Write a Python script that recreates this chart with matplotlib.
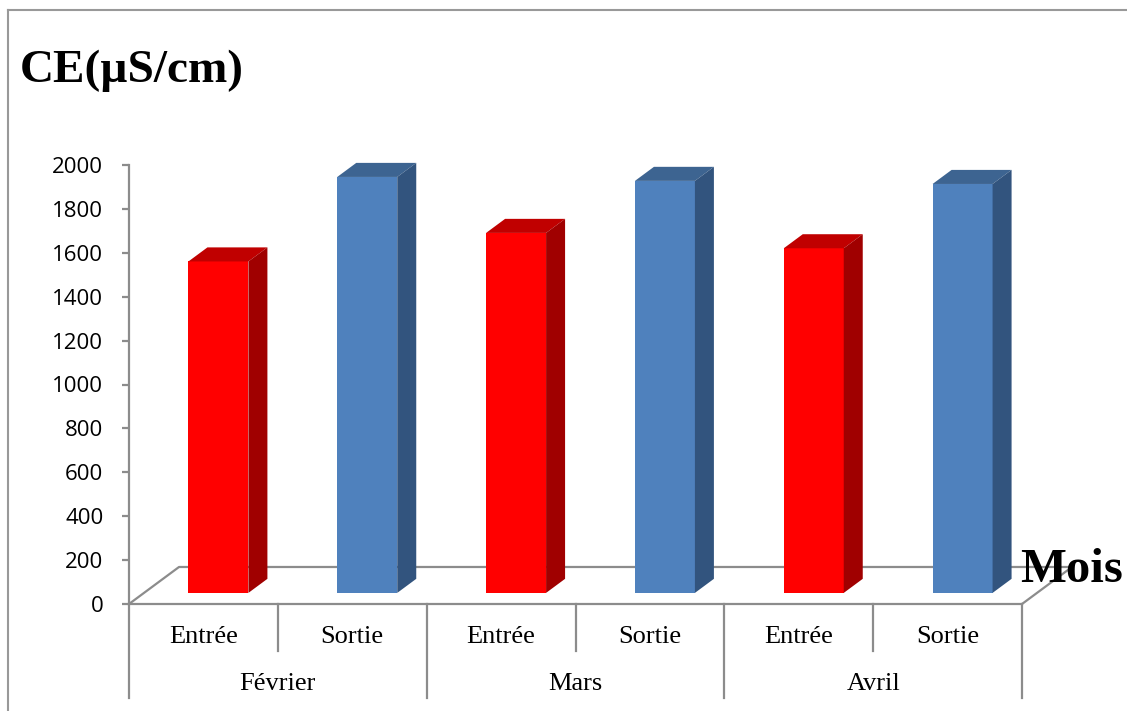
import matplotlib.pyplot as plt
from matplotlib.patches import Polygon

months = ['Février', 'Mars', 'Avril']
series = ['Entrée', 'Sortie']
entree = [1510, 1640, 1570]
sortie = [1895, 1877, 1863]

# colours: front, top, side
red = ('#FF0000', '#C00000', '#A00000')
blue = ('#4F81BD', '#3D6491', '#32547E')
grey = '#8C8C8C'

fig = plt.figure(figsize=(11.27, 7.11), dpi=100)
W, H = 1127, 711
ax = fig.add_axes([129 / W, 1 - 604 / H, (1022 - 129) / W, (604 - 165) / H])
ax.set_xlim(0, 6)
ax.set_ylim(0, 2000)

# pseudo 3D depth (data units)
ddx, ddy = 0.336, 168.6
f1, f2 = 0.30, 0.68
bw = 0.403

vals = []
cols = []
for e, s in zip(entree, sortie):
    vals += [e, s]
    cols += [red, blue]

for i, (v, c) in enumerate(zip(vals, cols)):
    x0 = i + 0.5 - bw / 2 + f1 * ddx
    y0 = f1 * ddy
    x1 = x0 + bw
    y1 = y0 + v
    ox, oy = (f2 - f1) * ddx, (f2 - f1) * ddy
    ax.add_patch(Polygon([(x0, y0), (x1, y0), (x1, y1), (x0, y1)], closed=True,
                         facecolor=c[0], edgecolor='none', zorder=3))
    ax.add_patch(Polygon([(x0, y1), (x1, y1), (x1 + ox, y1 + oy), (x0 + ox, y1 + oy)],
                         closed=True, facecolor=c[1], edgecolor='none', zorder=3, clip_on=False))
    ax.add_patch(Polygon([(x1, y0), (x1 + ox, y0 + oy), (x1 + ox, y1 + oy), (x1, y1)],
                         closed=True, facecolor=c[2], edgecolor='none', zorder=3, clip_on=False))

# floor
lw = 1.6
ax.plot([0, ddx, 6 + ddx, 6], [0, ddy, ddy, 0], color=grey, lw=lw, clip_on=False, zorder=2)

for sp in ['top', 'right']:
    ax.spines[sp].set_visible(False)
ax.spines['left'].set_color(grey)
ax.spines['left'].set_linewidth(lw)
ax.spines['bottom'].set_color(grey)
ax.spines['bottom'].set_linewidth(lw)

ax.set_yticks(range(0, 2001, 200))
ax.tick_params(axis='y', length=5, width=lw, color=grey, pad=13.5)
for t in ax.get_yticklabels():
    t.set_fontfamily('Open Sans')
    t.set_fontsize(16)
ax.set_xticks([])

# category axis (two levels)
pxv = 2000 / 439
for k in range(7):
    low = -94 * pxv if k % 2 == 0 else -47 * pxv
    ax.plot([k, k], [0, low], color=grey, lw=lw, clip_on=False)
for i in range(6):
    ax.text(i + 0.5, -33 * pxv, series[i % 2], ha='center', va='center',
            family='Liberation Serif', fontsize=19)
for j, m in enumerate(months):
    ax.text(2 * j + 1, -80 * pxv, m, ha='center', va='center',
            family='Liberation Serif', fontsize=19)

# titles
fig.text(20 / W, 1 - 82 / H, 'CE(µS/cm)', family='Liberation Serif', weight='bold',
         fontsize=34, va='baseline', ha='left')
fig.text(1020 / W, 1 - 582 / H, 'Mois', family='Liberation Serif', weight='bold',
         fontsize=35, va='baseline', ha='left')

# outer frame
fig.add_artist(plt.Line2D([8 / W, 8 / W], [0, 1 - 10 / H], color='#999999', lw=1.5))
fig.add_artist(plt.Line2D([8 / W, 1], [1 - 10 / H, 1 - 10 / H], color='#999999', lw=1.5))

fig.savefig('out.png', dpi=100)
